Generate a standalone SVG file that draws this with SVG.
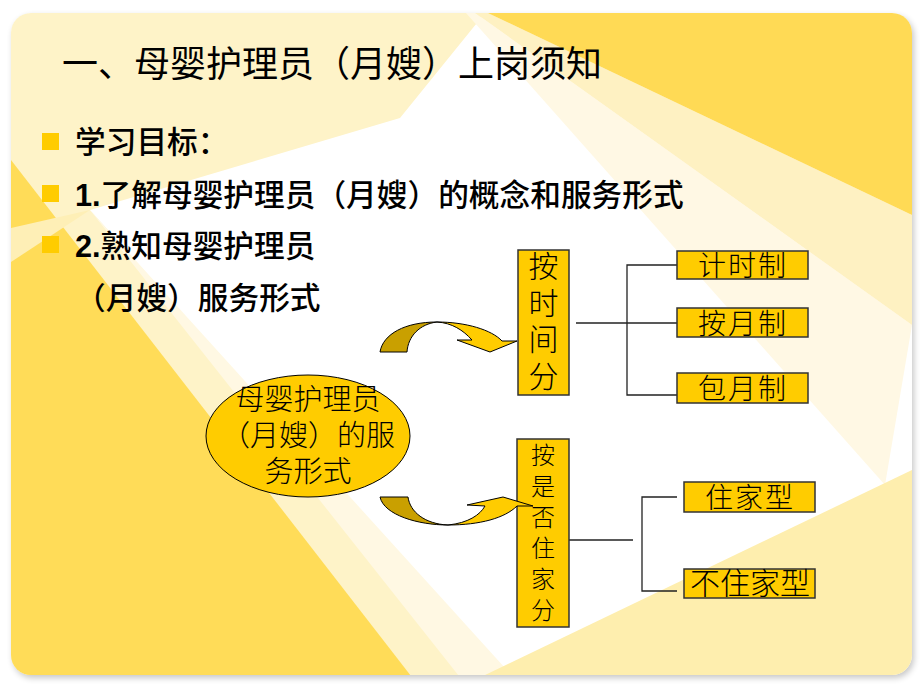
<svg xmlns="http://www.w3.org/2000/svg" width="920" height="690" viewBox="0 0 920 690">
<defs>
  <clipPath id="slideClip"><rect x="11" y="13" width="901" height="662" rx="20"/></clipPath>
  <filter id="shadow" x="-5%" y="-5%" width="110%" height="110%">
    <feGaussianBlur stdDeviation="3"/>
  </filter>
  <style>
    .title{font-family:"Noto Sans CJK SC","Noto Sans",sans-serif;font-size:36px;fill:#000}
    .bul{font-family:"Noto Sans CJK SC","Noto Sans",sans-serif;font-size:30.7px;font-weight:500;fill:#000}
    .num{font-family:"Liberation Sans",Arial,sans-serif;font-weight:bold}
    .sq{fill:#FFCC00}
    .box{fill:#FFCC00;stroke:#333;stroke-width:1.5}
    .lbl{font-family:"Noto Sans CJK SC",sans-serif;font-weight:300;fill:#000;text-anchor:middle}
    .vlbl{font-family:"Noto Sans CJK SC",sans-serif;font-weight:300;fill:#000;writing-mode:vertical-rl;text-orientation:upright}
    .conn{fill:none;stroke:#222;stroke-width:1.3}
    .adark{fill:#C9A000;stroke:#000;stroke-width:1}
    .alight{fill:#FFCC00;stroke:#000;stroke-width:1}
  </style>
</defs>
<rect width="920" height="690" fill="#fff"/>
<rect x="13" y="16" width="901" height="662" rx="20" fill="#000" opacity="0.22" filter="url(#shadow)"/>
<g id="background" clip-path="url(#slideClip)">
  <rect x="11" y="13" width="901" height="662" fill="#fff"/>
  <polygon fill="#FEF3C8" points="11,13 485,13 400,118 90,210 520,690 11,690"/>
  <polygon fill="#FFF8E3" points="90,210 470,690 525,690"/>
  <polygon fill="#FFDC58" points="11,160 411,676 411,690 11,690"/>
  <polygon fill="#FEEFB6" points="90,210 11,228 11,262"/>
  <polygon fill="#FFF8E4" points="450,-5 912,325 885,485"/>
  <polygon fill="#FEF1C2" points="450,-5 912,215 912,325"/>
  <polygon fill="#FFDA55" points="450,-5 912,-5 912,215"/>
  <polygon fill="#FEEEAE" points="483,676 912,470 912,690 483,690"/>
</g>

<g id="title">
  <text class="title" x="62" y="77">一、母婴护理员（月嫂）上岗须知</text>
</g>

<g id="bullets">
  <rect class="sq" x="42" y="133" width="17" height="17"/>
  <rect class="sq" x="42" y="185" width="17" height="17"/>
  <rect class="sq" x="42" y="236" width="17" height="17"/>
  <text class="bul" x="75" y="153">学习目标：</text>
  <text class="bul" x="75" y="206"><tspan class="num">1.</tspan>了解母婴护理员（月嫂）的概念和服务形式</text>
  <text class="bul" x="75" y="257"><tspan class="num">2.</tspan>熟知母婴护理员</text>
  <text class="bul" x="75" y="309">（月嫂）服务形式</text>
</g>

<g id="connectors">
  <polyline class="conn" points="576,323 677,323"/>
  <polyline class="conn" points="677,265 627,265 627,395 677,395"/>
  <polyline class="conn" points="569,540 633,540"/>
  <polyline class="conn" points="677,497 642,497 642,591 677,591"/>
</g>

<g id="node-center">
  <ellipse cx="308" cy="436" rx="102" ry="61" fill="#FFCC00" stroke="#000" stroke-width="1"/>
  <text class="lbl" font-size="29"><tspan x="308" y="410">母婴护理员</tspan><tspan x="308" y="446">（月嫂）的服</tspan><tspan x="308" y="482">务形式</tspan></text>
</g>

<g id="arrow-top">
  <path class="adark" d="M380,352 C383,334 405,322 437,322 C420,324 408,336 407,352 Z"/>
  <path class="alight" d="M437,322 C466,322 492,330 502,341 L517,341 L490,352 L457,340 L472,340 C463,330 452,323 437,322 Z"/>
</g>

<g id="node-time">
  <rect class="box" x="518" y="250" width="51" height="145"/>
  <text class="vlbl" font-size="30" letter-spacing="6.5" x="543.5" y="251">按时间分</text>
</g>

<g id="node-hourly">
  <rect class="box" x="677" y="251" width="131" height="28"/>
  <text class="lbl" font-size="28" letter-spacing="2" x="743" y="276">计时制</text>
</g>
<g id="node-monthly">
  <rect class="box" x="677" y="308" width="131" height="29"/>
  <text class="lbl" font-size="28" letter-spacing="2" x="743" y="334">按月制</text>
</g>
<g id="node-package">
  <rect class="box" x="677" y="373" width="131" height="30"/>
  <text class="lbl" font-size="28" letter-spacing="2" x="743" y="399">包月制</text>
</g>

<g id="node-live">
  <rect class="box" x="517" y="439" width="52" height="188"/>
  <text class="vlbl" font-size="24" letter-spacing="7" x="543" y="443">按是否住家分</text>
</g>

<g id="arrow-bottom">
  <path class="adark" d="M380,497 L408,497 C410,512 425,524 448,525 C418,525 384,515 380,497 Z"/>
  <path class="alight" d="M448,525 C468,523 480,515 485,506 L467,505 L503,497 L533,506 L517,506 C505,518 480,525 448,525 Z"/>
</g>

<g id="node-livein">
  <rect class="box" x="684" y="482" width="131" height="30"/>
  <text class="lbl" font-size="28" letter-spacing="2" x="750" y="508">住家型</text>
</g>
<g id="node-liveout">
  <rect class="box" x="684" y="569" width="131" height="29"/>
  <text class="lbl" font-size="30" x="750" y="594">不住家型</text>
</g>
</svg>
